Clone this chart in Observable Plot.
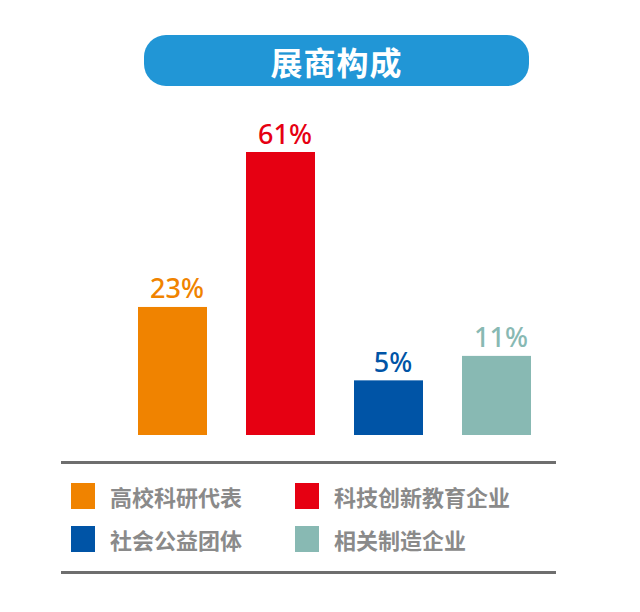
<!DOCTYPE html>
<html>
<head>
<meta charset="utf-8">
<script src="https://cdn.jsdelivr.net/npm/d3@7"></script>
<script src="https://cdn.jsdelivr.net/npm/@observablehq/plot@0.6"></script>
<style>
  html, body { margin: 0; padding: 0; background: #fff; }
  body { width: 640px; height: 612px; position: relative; overflow: hidden; font-family: "Noto Sans CJK SC", "Noto Sans", sans-serif; }
  #title { position: absolute; left: 144px; top: 35px; width: 385px; height: 51px; border-radius: 22px; background: #2196d6; color: #fff; font-weight: 700; font-size: 32px; display: flex; align-items: center; justify-content: center; letter-spacing: 1px; }
  #chart { position: absolute; left: 0; top: 100px; }
  .rule { position: absolute; left: 61px; width: 495px; height: 3px; background: #6e6e6e; }
  #legend { position: absolute; left: 71px; top: 483px; display: grid; grid-template-columns: 224px 260px; row-gap: 17px; }
  .item { display: flex; align-items: center; height: 26px; }
  .sw { width: 24px; height: 26px; margin-right: 15px; flex: none; }
  .lab { font-size: 22px; font-weight: 700; color: #8a8a8a; white-space: nowrap; }
</style>
</head>
<body>
<div id="title"></div>
<div id="chart"></div>
<div class="rule" style="top:461px"></div>
<div id="legend"></div>
<div class="rule" style="top:571px"></div>
<script>
const titleText = "展商构成";
const categories = ["高校科研代表", "科技创新教育企业", "社会公益团体", "相关制造企业"];
const values = [23, 61, 5, 11];
const valueLabels = ["23%", "61%", "5%", "11%"];
const colors = ["#f08300", "#e60012", "#0054a6", "#88b9b3"];
const yDomain = [-8.4, 61];

document.getElementById("title").textContent = titleText;

const data = categories.map((c, i) => ({category: c, value: values[i], label: valueLabels[i]}));
const base = yDomain[0];

const chart = Plot.plot({
  width: 640,
  height: 345,
  marginTop: 52,
  marginBottom: 10,
  marginLeft: 0,
  marginRight: 0,
  x: {domain: categories, range: [97, 571], padding: 0.365, axis: null},
  y: {domain: yDomain, axis: null},
  color: {domain: categories, range: colors},
  marks: [
    Plot.barY(data, {x: "category", y1: () => base, y2: "value", fill: "category"}),
    Plot.text(data, {x: "category", y: "value", text: "label", fill: "category", dy: -9, dx: 4, lineAnchor: "bottom", fontSize: 27, fontWeight: 500, fontFamily: "'Noto Sans', sans-serif"})
  ]
});
document.getElementById("chart").appendChild(chart);

const legend = document.getElementById("legend");
categories.forEach((c, i) => {
  const item = document.createElement("div");
  item.className = "item";
  const sw = document.createElement("div");
  sw.className = "sw";
  sw.style.background = colors[i];
  const lab = document.createElement("span");
  lab.className = "lab";
  lab.textContent = c;
  item.appendChild(sw);
  item.appendChild(lab);
  legend.appendChild(item);
});
</script>
</body>
</html>
